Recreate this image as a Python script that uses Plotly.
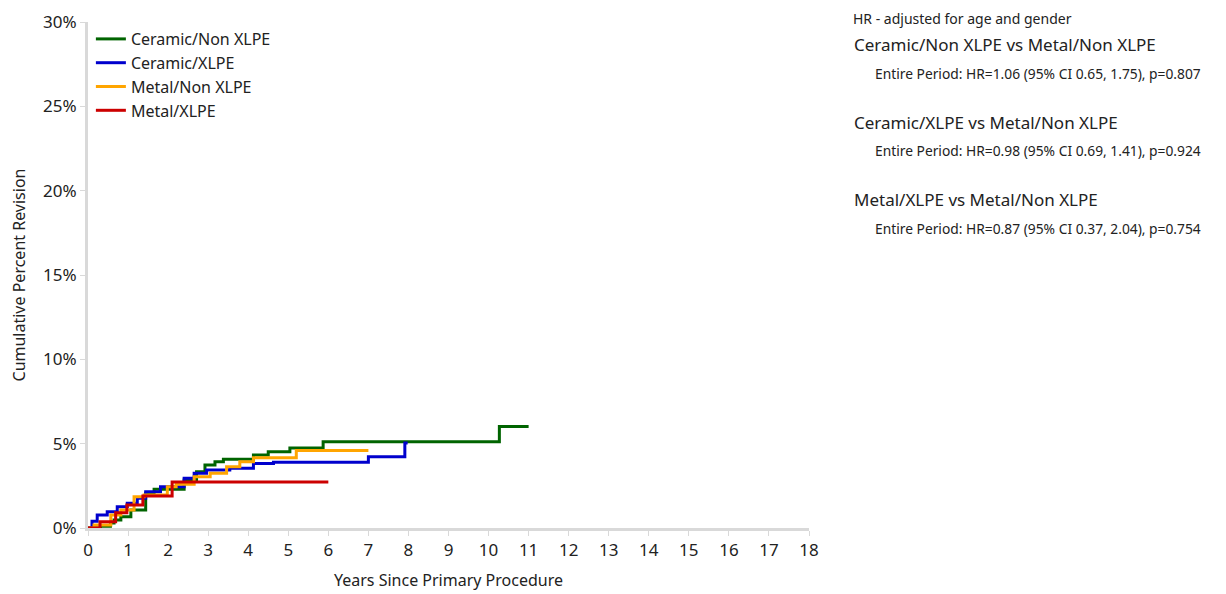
import plotly.graph_objects as go

# Data (years, cumulative percent revision)
cer_non_x = [0, 0.31, 0.56, 0.65, 0.82, 1.07, 1.44, 1.65, 2.4, 2.71, 2.92, 3.17, 3.38, 4.13, 4.5, 5.04, 5.87, 10.27, 11.0]
cer_non_y = [0, 0.1, 0.3, 0.47, 0.67, 1.07, 2.06, 2.3, 2.85, 3.34, 3.73, 3.93, 4.07, 4.33, 4.52, 4.74, 5.12, 6.02, 6.02]

cer_x_x = [0, 0.1, 0.23, 0.48, 0.73, 0.98, 1.23, 1.44, 1.81, 2.4, 2.65, 2.96, 3.54, 4.13, 4.63, 7.0, 7.91, 7.98]
cer_x_y = [0, 0.4, 0.77, 0.97, 1.26, 1.46, 1.76, 2.15, 2.45, 2.95, 3.24, 3.44, 3.54, 3.83, 3.9, 4.23, 5.04, 5.04]

met_non_x = [0, 0.15, 0.57, 0.82, 1.15, 1.4, 1.98, 2.2, 2.65, 3.05, 3.46, 3.79, 4.13, 5.2, 7.0]
met_non_y = [0, 0.18, 0.77, 1.07, 1.86, 1.96, 2.45, 2.6, 3.04, 3.24, 3.63, 3.93, 4.17, 4.6, 4.6]

met_x_x = [0, 0.3, 0.69, 0.97, 1.37, 2.1, 6.0]
met_x_y = [0, 0.37, 0.9, 1.36, 1.9, 2.72, 2.72]

series = [
    ("Ceramic/Non XLPE", cer_non_x, cer_non_y, "#006400"),
    ("Ceramic/XLPE", cer_x_x, cer_x_y, "#0000CD"),
    ("Metal/Non XLPE", met_non_x, met_non_y, "#FFA500"),
    ("Metal/XLPE", met_x_x, met_x_y, "#CC0000"),
]

x_ticks = list(range(0, 19))
y_ticks = [0, 5, 10, 15, 20, 25, 30]
y_tick_labels = ["0%", "5%", "10%", "15%", "20%", "25%", "30%"]

hr_header = "HR - adjusted for age and gender"
comparisons = [
    ("Ceramic/Non XLPE vs Metal/Non XLPE", "Entire Period: HR=1.06 (95% CI 0.65, 1.75), p=0.807"),
    ("Ceramic/XLPE vs Metal/Non XLPE", "Entire Period: HR=0.98 (95% CI 0.69, 1.41), p=0.924"),
    ("Metal/XLPE vs Metal/Non XLPE", "Entire Period: HR=0.87 (95% CI 0.37, 2.04), p=0.754"),
]

FONT = "Noto Sans, Open Sans, sans-serif"
TXT = "#222222"

fig = go.Figure()
for name, xs, ys, col in series:
    fig.add_trace(go.Scatter(x=xs, y=ys, mode="lines", name=name,
                             line=dict(color=col, width=3, shape="hv")))

# page body has an 8px margin, so the figure is offset by 8px
OFF = 8
W, H = 1226 - OFF, 594 - OFF
ml, mr, mt = 88 - OFF, 1226 - 809, 22 - OFF
mb = 594 - 528
pw, ph = W - ml - mr, H - mt - mb

def px_x(p):
    return (p - OFF - ml) / pw

def px_y(p):
    return (H - mb - (p - OFF)) / ph

annotations = [dict(text=hr_header, x=px_x(852), y=px_y(8), xref="paper", yref="paper",
                    xanchor="left", yanchor="top", showarrow=False, borderpad=0,
                    font=dict(size=14, color=TXT, family=FONT))]
title_y = [45, 123, 199]
sub_y = [74, 151, 229]
for (t, s), ty, sy in zip(comparisons, title_y, sub_y):
    annotations.append(dict(text=t, x=px_x(852), y=px_y(ty), xref="paper", yref="paper",
                            xanchor="left", yanchor="middle", showarrow=False,
                            font=dict(size=17, color=TXT, family=FONT)))
    annotations.append(dict(text=s, x=px_x(873), y=px_y(sy), xref="paper", yref="paper",
                            xanchor="left", yanchor="middle", showarrow=False,
                            font=dict(size=13.8, color=TXT, family=FONT)))

fig.update_layout(
    width=W, height=H,
    margin=dict(l=ml, r=mr, t=mt, b=mb, autoexpand=False),
    paper_bgcolor="white", plot_bgcolor="white",
    font=dict(family=FONT, size=16, color=TXT),
    showlegend=True,
    legend=dict(x=0.004, y=1.0, xanchor="left", yanchor="top",
                font=dict(size=16, color=TXT, family=FONT),
                bgcolor="rgba(0,0,0,0)", tracegroupgap=0),
    annotations=annotations,
    xaxis=dict(range=[0, 18], tickvals=x_ticks, ticktext=[str(v) for v in x_ticks],
               showgrid=False, zeroline=False, showline=True, linecolor="#d9d9d9", linewidth=3,
               ticks="outside", ticklen=5, tickcolor="#d9d9d9", tickwidth=1,
               tickfont=dict(size=17), title=dict(text="Years Since Primary Procedure", standoff=15,
                                                  font=dict(size=16))),
    yaxis=dict(range=[0, 30], tickvals=y_ticks, ticktext=y_tick_labels,
               showgrid=False, zeroline=False, showline=True, linecolor="#d9d9d9", linewidth=3,
               ticks="outside", ticklen=5, tickcolor="#d9d9d9", tickwidth=1,
               tickfont=dict(size=17), title=dict(text="Cumulative Percent Revision", standoff=17,
                                                  font=dict(size=16))),
)

fig.write_html("out.html")
